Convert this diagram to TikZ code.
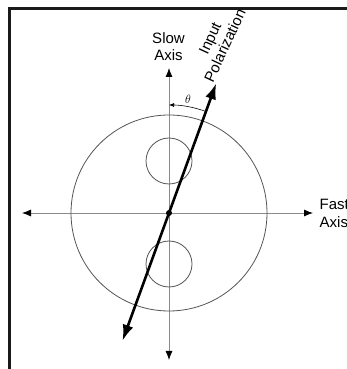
\documentclass[tikz,border=0pt]{standalone}
\usepackage{fontspec}
\setmainfont{Liberation Sans}
\usetikzlibrary{arrows.meta, positioning, calc}
\definecolor{grisaxis}{HTML}{8A8A8A}
\definecolor{grisring}{HTML}{555555}
\definecolor{marco}{HTML}{1A1A1A}
\tikzset{
  axis/.style={draw=grisaxis, line width=0.8pt, {Latex[length=9pt,width=7pt,color=black]}-{Latex[length=9pt,width=7pt,color=black]}},
  ring/.style={draw=grisring, line width=0.8pt},
  polar/.style={draw=black, line width=2.6pt, {Latex[length=16pt,width=11pt]}-{Latex[length=16pt,width=11pt]}},
  lbl/.style={font=\fontsize{15}{16.5}\selectfont, align=center, inner sep=0pt}
}
\begin{document}
\begin{tikzpicture}[x=1pt, y=1pt]
  \useasboundingbox (0,0) rectangle (347,369);
  \clip (0,0) rectangle (347,369);
  % frame
  \draw [marco, line width=3pt] (9.5,-2) |- (350,360.5);
  % centre and axes
  \coordinate (o) at (169,156);
  \coordinate (fl) at (22,156);
  \coordinate (fr) at (313,156);
  \coordinate (st) at (169,301);
  \coordinate (sb) at (169,9);
  \draw [axis] (fl) -- (fr);
  \draw [axis] (sb) -- (st);
  % circles
  \node (big) [ring, circle, minimum size=196pt, inner sep=0pt] at (o) {};
  \node (lobeu) [ring, circle, minimum size=46pt, inner sep=0pt] at (169,208) {};
  \node (lobed) [ring, circle, minimum size=46pt, inner sep=0pt] at (169,105) {};
  % input polarization
  \coordinate (pt) at ($(o)+(70:138)$);
  \coordinate (pb) at ($(o)+(250:136)$);
  \draw [polar] (pb) -- (pt);
  \fill (o) circle (3pt);
  % angle
  \coordinate (at) at ($(o)+(70:108)$);
  \draw [black, line width=0.6pt, -{Latex[length=5pt,width=4pt]}] (at) arc[start angle=70, end angle=90, radius=108pt];
  \node (theta) [font=\fontsize{13}{13}\selectfont] at (188,270) {$\theta$};
  % labels
  \node (slow) [lbl] at (168.5,322.5) {Slow\\Axis};
  \node (fast) [lbl, align=left, anchor=west, font=\fontsize{15}{17.5}\selectfont] at (319.5,155.5) {Fast\\Axis};
  \node (inpol) [lbl, rotate=65] at (217.5,327) {Input\\Polarization};
\end{tikzpicture}
\end{document}
